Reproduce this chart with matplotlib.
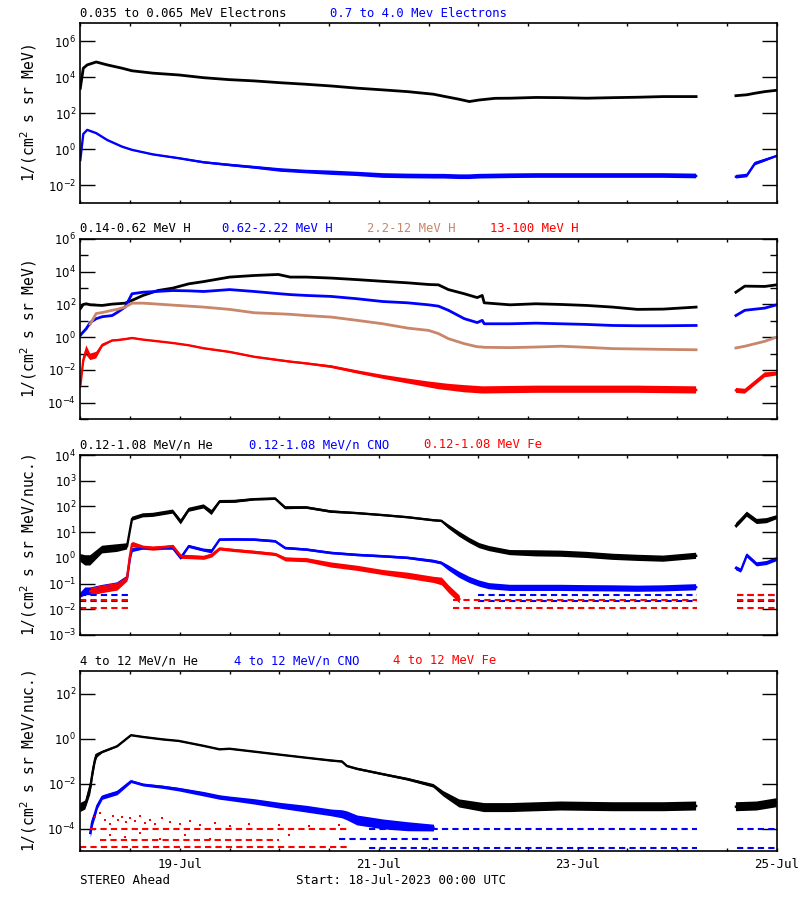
"""
STEREO Ahead particle fluxes, 18-25 Jul 2023 (four log panels).
"""
import numpy as np
import matplotlib
matplotlib.use("Agg")
import matplotlib.pyplot as plt
from matplotlib.ticker import FixedLocator, FuncFormatter, NullFormatter

nan = np.nan

# ---- panel 1: electrons -------------------------------------------------
t_e = [0, 0.03, 0.07, 0.16, 0.27, 0.42, 0.52, 0.73, 0.99, 1.24, 1.50, 1.75, 2.01,
       2.27, 2.52, 2.78, 3.04, 3.29, 3.55, 3.65, 3.81, 3.91, 4.01, 4.17, 4.32, 4.58,
       4.83, 5.09, 5.35, 5.60, 5.86, 6.19, 6.40, 6.59, 6.70, 6.78, 6.88, 7.0]
e_low = [2450, 3.2e4, 4.9e4, 7.1e4, 4.9e4, 3.2e4, 2.3e4, 1.7e4, 1.35e4, 9.5e3, 7.4e3,
         6.3e3, 5.0e3, 4.1e3, 3.3e3, 2.5e3, 2.0e3, 1.6e3, 1.15e3, 890, 600, 450, 550,
         680, 690, 760, 740, 690, 740, 780, 850, 850, nan, 950, 1070, 1300, 1600, 1900]
e_high = [0.25, 7.1, 12, 7.9, 3.3, 1.4, 0.93, 0.52, 0.32, 0.19, 0.135, 0.1, 0.071,
          0.058, 0.05, 0.043, 0.035, 0.033, 0.032, 0.032, 0.030, 0.030, 0.032, 0.033,
          0.034, 0.035, 0.035, 0.035, 0.035, 0.035, 0.035, 0.033, nan, 0.030, 0.035,
          0.16, 0.25, 0.43]
# scatter half-width in decades
e_high_spread = [0, 0, 0, 0.03, 0.03, 0.03, 0.03, 0.04, 0.05, 0.06, 0.07, 0.08, 0.1,
                 0.1, 0.12, 0.12, 0.13, 0.13, 0.13, 0.13, 0.13, 0.13, 0.13, 0.13, 0.13,
                 0.13, 0.13, 0.13, 0.13, 0.13, 0.13, 0.13, 0, 0.1, 0.1, 0.1, 0.08, 0.05]

# ---- panel 2: protons ---------------------------------------------------
t_h = [0, 0.03, 0.06, 0.1, 0.16, 0.22, 0.32, 0.37, 0.45, 0.52, 0.63, 0.78, 0.93, 1.09,
       1.24, 1.50, 1.75, 1.99, 2.11, 2.27, 2.52, 2.78, 3.04, 3.29, 3.50, 3.60, 3.70,
       3.86, 3.99, 4.04, 4.06, 4.32, 4.58, 4.83, 5.09, 5.35, 5.60, 5.86, 6.19, 6.40,
       6.59, 6.68, 6.88, 7.0]
h_1 = [55, 100, 110, 95, 91, 87, 105, 110, 120, 178, 355, 710, 1000, 1820, 2500, 4700,
       5900, 6800, 4700, 4700, 4100, 3300, 2600, 2100, 1660, 1580, 810, 450, 263, 355,
       126, 95, 110, 100, 87, 69, 50, 52, 69, nan, 560, 1320, 1260, 1580]
h_2 = [1.3, 2.1, 3.3, 7.9, 13.5, 17.8, 21, 32, 69, 450, 560, 630, 710, 680, 620, 810,
       620, 460, 400, 355, 310, 224, 151, 126, 95, 79, 44, 13.5, 7.8, 10.7, 6.6, 6.6,
       7.2, 6.6, 6.0, 5.2, 5.0, 5.0, 5.2, nan, 21, 44, 60, 95]
h_3 = [nan, nan, nan, 6.3, 28, 32, 44, 50, 69, 120, 120, 105, 91, 79, 69, 50, 31, 27,
       25, 21, 17, 10.7, 6.6, 3.6, 2.6, 1.66, 0.81, 0.40, 0.26, 0.25, 0.24, 0.23, 0.25,
       0.28, 0.24, 0.20, 0.19, 0.18, 0.17, nan, 0.22, 0.28, 0.56, 1.02]
h_4 = [1e-3, 0.04, 0.16, 0.063, 0.08, 0.32, 0.63, 0.66, 0.76, 0.89, 0.71, 0.56, 0.44,
       0.32, 0.21, 0.126, 0.063, 0.04, 0.032, 0.025, 0.016, 7.6e-3, 3.8e-3, 2.1e-3,
       1.3e-3, 1.05e-3, 8.9e-4, 7.1e-4, 6.3e-4, 6e-4, 6e-4, 6.3e-4, 6.6e-4, 6.6e-4,
       6.6e-4, 6.6e-4, 6.6e-4, 6.3e-4, 6e-4, nan, 5.6e-4, 5e-4, 5e-3, 6e-3]
h_4_spread = [0, 0.2, 0.3, 0.2, 0.2, 0.1, 0.05, 0.05, 0.05, 0.05, 0.04, 0.04, 0.04,
              0.04, 0.05, 0.05, 0.05, 0.06, 0.06, 0.06, 0.08, 0.1, 0.12, 0.15, 0.18,
              0.2, 0.2, 0.22, 0.22, 0.22, 0.22, 0.22, 0.22, 0.22, 0.22, 0.22, 0.22,
              0.22, 0.22, 0, 0.15, 0.15, 0.15, 0.12]

# ---- panel 3: low energy heavy ions -------------------------------------
t_lo = [0, 0.05, 0.1, 0.22, 0.37, 0.47, 0.5, 0.52, 0.63, 0.73, 0.85, 0.93, 1.01, 1.09,
        1.24, 1.32, 1.40, 1.55, 1.75, 1.96, 2.06, 2.27, 2.52, 2.78, 3.04, 3.29, 3.55,
        3.63, 3.70, 3.81, 3.91, 4.01, 4.11, 4.32, 4.58, 4.83, 5.09, 5.35, 5.60, 5.86,
        6.19, 6.40, 6.59, 6.64, 6.70, 6.80, 6.90, 7.0]
he_lo = [1.0, 0.8, 0.8, 2.1, 2.4, 2.8, 12.6, 33, 45, 47, 56, 63, 25, 74, 100, 58, 155,
         158, 190, 200, 89, 91, 63, 55, 46, 38, 29, 27.5, 16.6, 8.3, 4.8, 3.0, 2.3, 1.6,
         1.5, 1.45, 1.3, 1.1, 1.0, 0.93, 1.2, nan, 17.8, 28, 50, 26, 28, 38]
he_lo_spread = [0.15, 0.2, 0.2, 0.15, 0.15, 0.12, 0, 0.08, 0.08, 0.08, 0.08, 0.08, 0.1,
                0.08, 0.08, 0.1, 0.06, 0.06, 0.05, 0.05, 0.06, 0.05, 0.05, 0.04, 0.04,
                0.04, 0.04, 0.04, 0.08, 0.1, 0.1, 0.1, 0.1, 0.1, 0.12, 0.12, 0.12, 0.12,
                0.12, 0.12, 0.12, 0, 0.1, 0.1, 0.1, 0.1, 0.1, 0.08]
cno_lo = [0.035, 0.05, 0.05, 0.063, 0.079, 0.16, 1.0, 2.0, 2.4, 2.3, 2.4, 2.4, 1.0, 2.8,
          2.0, 1.8, 5.1, 5.2, 5.1, 4.4, 2.4, 2.1, 1.55, 1.3, 1.15, 1.0, 0.74, 0.63, 0.41,
          0.22, 0.14, 0.1, 0.079, 0.068, 0.068, 0.068, 0.066, 0.065, 0.063, 0.065, 0.072,
          nan, 0.4, 0.32, 1.26, 0.56, 0.63, 0.89]
cno_lo_spread = [0.1, 0.15, 0.15, 0.15, 0.15, 0.1, 0, 0.08, 0.06, 0.06, 0.06, 0.06, 0.08,
                 0.06, 0.06, 0.08, 0.05, 0.05, 0.05, 0.05, 0.05, 0.05, 0.05, 0.05, 0.05,
                 0.05, 0.06, 0.06, 0.1, 0.12, 0.12, 0.12, 0.12, 0.12, 0.12, 0.12, 0.12,
                 0.12, 0.12, 0.12, 0.12, 0, 0.08, 0.08, 0.08, 0.08, 0.08, 0.08]
fe_lo = [nan, nan, 0.05, 0.063, 0.079, 0.16, 1.26, 3.5, 2.6, 2.4, 2.6, 2.8, 1.15, 1.12,
         1.05, 1.3, 2.3, 2.0, 1.7, 1.4, 0.91, 0.85, 0.55, 0.41, 0.28, 0.21, 0.145, 0.126,
         0.063, 0.025] + [nan] * 18
fe_lo_spread = [0, 0, 0.15, 0.15, 0.15, 0.1, 0, 0.1, 0.08, 0.08, 0.08, 0.08, 0.08, 0.08,
                0.08, 0.08, 0.06, 0.06, 0.06, 0.06, 0.08, 0.08, 0.1, 0.1, 0.1, 0.12,
                0.12, 0.15, 0.15, 0.15] + [0] * 18
# single-count floor levels (value, start day, end day)
cno_lo_floor = [(0.035, 0, 0.5), (0.021, 0, 0.5), (0.035, 4.0, 6.2), (0.021, 4.0, 6.2),
                (0.035, 6.6, 7.0), (0.021, 6.6, 7.0)]
fe_lo_floor = [(0.022, 0, 0.5), (0.011, 0, 0.5), (0.022, 3.75, 6.2), (0.011, 3.75, 6.2),
               (0.035, 6.6, 7.0), (0.022, 6.6, 7.0), (0.011, 6.6, 7.0)]

# ---- panel 4: high energy heavy ions ------------------------------------
t_hi = [0, 0.05, 0.1, 0.12, 0.15, 0.17, 0.22, 0.37, 0.51, 0.63, 0.83, 0.99, 1.24, 1.40,
        1.50, 1.75, 2.01, 2.27, 2.52, 2.63, 2.68, 2.78, 3.04, 3.29, 3.55, 3.65, 3.81,
        4.06, 4.32, 4.83, 5.35, 5.86, 6.19, 6.40, 6.59, 6.80, 7.0]
he_hi = [8.5e-4, 1.1e-3, 6.3e-3, 0.025, 0.126, 0.18, 0.25, 0.45, 1.4, 1.17, 0.91, 0.78,
         0.47, 0.33, 0.35, 0.26, 0.19, 0.14, 0.105, 0.095, 0.06, 0.045, 0.026, 0.0155,
         7.9e-3, 3.5e-3, 1.3e-3, 8.5e-4, 8.5e-4, 1.0e-3, 9.3e-4, 9.3e-4, 1.0e-3, nan,
         9.3e-4, 1.0e-3, 1.4e-3]
he_hi_spread = [0.2, 0.2, 0.3, 0.3, 0.2, 0.1, 0.05, 0.04, 0.03, 0.03, 0.03, 0.03, 0.03,
                0.03, 0.03, 0.03, 0.03, 0.03, 0.04, 0.04, 0.04, 0.05, 0.05, 0.06, 0.08,
                0.12, 0.18, 0.2, 0.2, 0.2, 0.2, 0.2, 0.2, 0, 0.2, 0.2, 0.2]
cno_hi = [nan, nan, 6.3e-5, 2e-4, 5e-4, 1e-3, 2.5e-3, 4e-3, 0.0126, 8.9e-3, 7.1e-3,
          5.6e-3, 3.5e-3, 2.5e-3, 2.2e-3, 1.6e-3, 1.07e-3, 7.6e-4, 5.2e-4, 4.5e-4,
          3.8e-4, 2.4e-4, 1.6e-4, 1.26e-4, 1.1e-4] + [nan] * 12
cno_hi_spread = [0, 0, 0.2, 0.2, 0.15, 0.12, 0.1, 0.1, 0.06, 0.06, 0.07, 0.08, 0.1, 0.1,
                 0.1, 0.12, 0.13, 0.15, 0.15, 0.18, 0.2, 0.22, 0.22, 0.2, 0.15] + [0] * 12
fe_hi_days = [0.15, 0.2, 0.25, 0.3, 0.33, 0.38, 0.42, 0.46, 0.5, 0.55, 0.6, 0.65, 0.7,
              0.75, 0.82, 0.9, 1.0, 1.1, 1.2, 1.35, 1.5, 1.7, 2.0, 2.3, 2.6,
              0.3, 0.45, 0.6, 0.8, 1.05, 1.3, 2.1]
fe_hi = [3.2e-4, 5e-4, 2.5e-4, 1.6e-4, 3.5e-4, 2.5e-4, 3.2e-4, 2e-4, 2.8e-4, 2.2e-4,
         3.5e-4, 1.8e-4, 2.5e-4, 1.6e-4, 2.8e-4, 2e-4, 1.6e-4, 2.2e-4, 1.4e-4, 1.8e-4,
         1.26e-4, 1.6e-4, 1.4e-4, 1.26e-4, 1.4e-4,
         5e-5, 4e-5, 6.3e-5, 3.5e-5, 5e-5, 3.5e-5, 5e-5]
cno_hi_floor = [(1e-4, 2.9, 6.2), (1e-4, 6.6, 7.0), (3.3e-5, 2.6, 3.6),
                (1.4e-5, 2.9, 6.2), (1.4e-5, 6.6, 7.0)]
fe_hi_floor = [(1e-4, 0.1, 2.7), (3e-5, 0.2, 2.0), (1.5e-5, 0.0, 2.7)]

day_labels = ['19-Jul', '21-Jul', '23-Jul', '25-Jul']

BLACK = '#000000'
BLUE = '#0000ff'
TAN = '#c8866a'
RED = '#ff0000'
MONO = 'DejaVu Sans Mono'

plt.rcParams['font.family'] = ['DejaVu Sans']
plt.rcParams['font.size'] = 8

fig = plt.figure(figsize=(8, 9), dpi=100)


def make_axes(top_px, ylo, yhi, majors, minors, ylabel):
    """One panel, 180 px tall, placed by its top edge in pixels."""
    ax = fig.add_axes([80.3 / 800, 1 - (top_px + 180) / 900, 696.4 / 800, 180 / 900])
    ax.set_yscale('log')
    ax.set_xlim(0, 7)
    ax.set_ylim(ylo, yhi)
    ax.yaxis.set_major_locator(FixedLocator(majors))
    ax.yaxis.set_minor_locator(FixedLocator(minors))
    ax.yaxis.set_major_formatter(
        FuncFormatter(lambda v, p: r'$10^{%d}$' % round(np.log10(v))))
    ax.yaxis.set_minor_formatter(NullFormatter())
    ax.set_xticks(np.arange(0, 7.01, 0.5))
    ax.set_xticklabels([])
    ax.tick_params(axis='y', which='major', direction='in', length=10.8, width=1,
                   left=True, right=True, pad=3, labelsize=8.5)
    ax.tick_params(axis='y', which='minor', direction='in', length=5.4, width=1,
                   left=True, right=True)
    ax.tick_params(axis='x', which='major', direction='in', length=2.5, width=1,
                   top=True, bottom=True, pad=5)
    ax.set_ylabel(ylabel, fontsize=10.5, family=MONO)
    ax.yaxis.set_label_coords(-0.06, 0.5)
    for s in ax.spines.values():
        s.set_linewidth(1.2)
    return ax


def draw(ax, t, v, color, spread=None, lw=1.7):
    t = np.asarray(t, float)
    v = np.asarray(v, float)
    ax.plot(t, v, color=color, lw=lw, solid_joinstyle='round')
    if spread is not None:
        s = 10 ** np.asarray(spread, float)
        ax.fill_between(t, v / s, v * s, color=color, lw=0)


def floors(ax, levels, color):
    for val, d0, d1 in levels:
        ax.plot([d0, d1], [val, val], color=color, lw=1.5, ls=(0, (3, 2)))


def title(top_px, parts):
    for x_px, text, color in parts:
        fig.text(x_px / 800, 1 - (top_px - 10) / 900, text, color=color,
                 fontsize=8.8, family=MONO, va='center', ha='left')


dec = lambda a, b: [10.0 ** k for k in range(a, b + 1)]

# panel 1
ax1 = make_axes(23.3, 1e-3, 1e7, dec(-2, 6)[::2], dec(-3, 7)[1::2],
                r'1/(cm$^2$ s sr MeV)')
draw(ax1, t_e, e_low, BLACK, lw=2.0)
draw(ax1, t_e, e_high, BLUE, e_high_spread)
title(23.3, [(80, '0.035 to 0.065 MeV Electrons', BLACK),
             (330, '0.7 to 4.0 Mev Electrons', BLUE)])

# panel 2
ax2 = make_axes(239, 1e-5, 1e6, dec(-4, 6)[::2], dec(-5, 5)[::2],
                r'1/(cm$^2$ s sr MeV)')
draw(ax2, t_h, h_1, BLACK, lw=2.0)
draw(ax2, t_h, h_2, BLUE, lw=2.0)
draw(ax2, t_h, h_3, TAN, lw=2.0)
draw(ax2, t_h, h_4, RED, h_4_spread)
title(239, [(80, '0.14-0.62 MeV H', BLACK), (222, '0.62-2.22 MeV H', BLUE),
            (367, '2.2-12 MeV H', TAN), (490, '13-100 MeV H', RED)])

# panel 3
ax3 = make_axes(455, 1e-3, 1e4, dec(-3, 4), [], r'1/(cm$^2$ s sr MeV/nuc.)')
draw(ax3, t_lo, he_lo, BLACK, he_lo_spread)
floors(ax3, cno_lo_floor, BLUE)
draw(ax3, t_lo, cno_lo, BLUE, cno_lo_spread)
floors(ax3, fe_lo_floor, RED)
draw(ax3, t_lo, fe_lo, RED, fe_lo_spread)
title(455, [(80, '0.12-1.08 MeV/n He', BLACK), (249, '0.12-1.08 MeV/n CNO', BLUE),
            (424, '0.12-1.08 MeV Fe', RED)])

# panel 4
ax4 = make_axes(671, 1e-5, 1e3, dec(-4, 2)[::2], dec(-5, 3)[1::2],
                r'1/(cm$^2$ s sr MeV/nuc.)')
draw(ax4, t_hi, he_hi, BLACK, he_hi_spread)
floors(ax4, cno_hi_floor, BLUE)
draw(ax4, t_hi, cno_hi, BLUE, cno_hi_spread)
floors(ax4, fe_hi_floor, RED)
ax4.plot(fe_hi_days, fe_hi, 's', color=RED, ms=2, mew=0)
title(671, [(80, '4 to 12 MeV/n He', BLACK), (234, '4 to 12 MeV/n CNO', BLUE),
            (393, '4 to 12 MeV Fe', RED)])
labels = [''] * 15
for i, lab in zip([2, 6, 10, 14], day_labels):
    labels[i] = lab
ax4.set_xticklabels(labels, family=MONO, fontsize=9)

fig.text(80 / 800, 1 - 880 / 900, 'STEREO Ahead', fontsize=9, family=MONO,
         va='center')
fig.text(296 / 800, 1 - 880 / 900, 'Start: 18-Jul-2023 00:00 UTC', fontsize=9,
         family=MONO, va='center')

fig.savefig('out.png', dpi=100, facecolor='white')
